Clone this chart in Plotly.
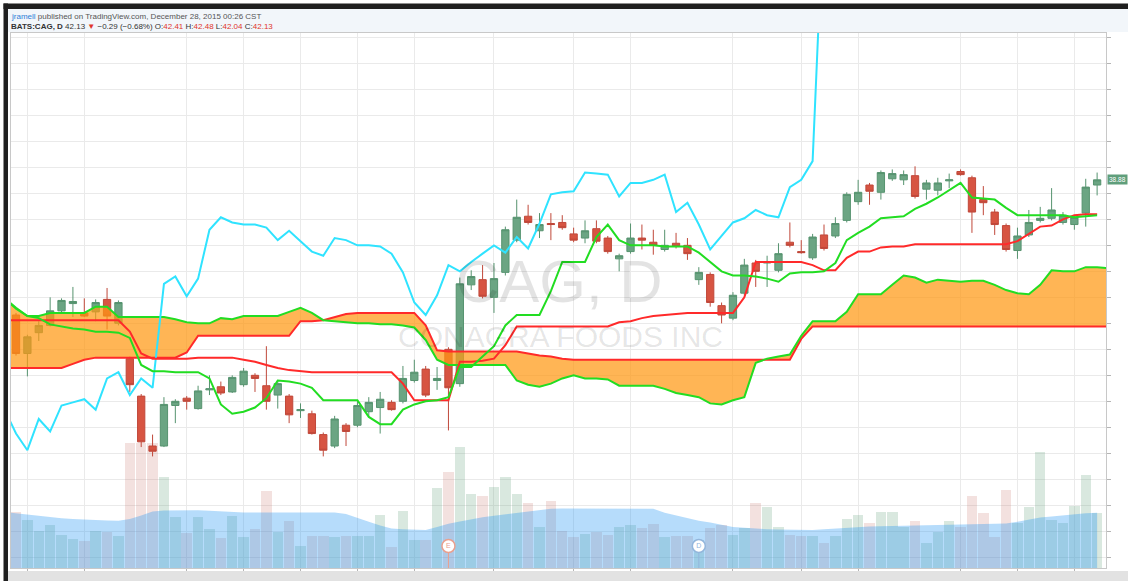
import plotly.graph_objects as go

# ---------------- data (bar index 0..95) ----------------
bars = list(range(96))
opens = [37.58, 37.21, 37.41, 37.48, 37.62, 37.69, 37.60, 37.61, 37.73, 37.50,
         37.16, 36.80, 36.32, 36.32, 36.71, 36.78, 36.68, 36.86, 36.89, 36.84,
         36.91, 37.00, 36.90, 36.81, 36.80, 36.66, 36.63, 36.43, 36.32, 36.52,
         36.52, 36.65, 36.69, 36.74, 36.75, 36.95, 37.06, 36.95, 37.25, 36.92,
         37.87, 37.92, 37.75, 37.99, 38.30, 38.53, 38.39, 38.46, 38.47, 38.36,
         38.32, 38.41, 38.32, 38.12, 38.19, 38.32, 38.28, 38.21, 38.27, 38.25,
         37.92, 37.97, 37.67, 37.55, 37.79, 38.08, 38.08, 38.01, 38.28, 38.19,
         38.13, 38.35, 38.34, 38.49, 38.67, 38.83, 38.76, 38.89, 38.88, 38.92,
         38.79, 38.78, 38.87, 38.96, 38.90, 38.69, 38.57, 38.44, 38.20, 38.35,
         38.49, 38.51, 38.47, 38.45, 38.56, 38.83]
highs = [37.60, 37.39, 37.52, 37.75, 37.74, 37.85, 37.74, 37.73, 37.84, 37.72,
         37.18, 36.82, 36.43, 36.79, 36.77, 36.80, 36.90, 37.00, 36.94, 37.00,
         37.07, 37.02, 37.28, 36.95, 36.82, 36.73, 36.66, 36.45, 36.61, 36.54,
         36.75, 36.79, 36.84, 36.76, 37.09, 37.15, 37.09, 37.08, 37.27, 37.94,
         38.01, 38.06, 38.08, 38.43, 38.69, 38.64, 38.56, 38.56, 38.54, 38.42,
         38.49, 38.49, 38.34, 38.17, 38.46, 38.45, 38.40, 38.40, 38.37, 38.32,
         38.04, 37.99, 37.70, 37.80, 38.12, 38.11, 38.15, 38.27, 38.47, 38.30,
         38.36, 38.45, 38.52, 38.76, 38.88, 38.85, 38.97, 38.98, 38.97, 39.01,
         38.88, 38.90, 38.94, 38.98, 38.92, 38.82, 38.60, 38.46, 38.42, 38.59,
         38.62, 38.80, 38.57, 38.54, 38.89, 38.95]
lows = [37.19, 36.99, 37.33, 37.47, 37.60, 37.56, 37.56, 37.52, 37.44, 37.48,
        36.84, 36.31, 36.22, 36.31, 36.54, 36.67, 36.67, 36.81, 36.81, 36.83,
        36.89, 36.84, 36.67, 36.68, 36.54, 36.59, 36.43, 36.22, 36.30, 36.32,
        36.50, 36.60, 36.44, 36.66, 36.73, 36.93, 36.79, 36.86, 36.47, 36.89,
        37.82, 37.74, 37.60, 37.96, 38.28, 38.45, 38.32, 38.30, 38.40, 38.28,
        38.27, 38.27, 38.17, 38.00, 38.17, 38.21, 38.16, 38.19, 38.22, 38.11,
        37.87, 37.66, 37.50, 37.53, 37.77, 37.85, 37.85, 37.99, 38.23, 38.17,
        38.11, 38.20, 38.32, 38.47, 38.64, 38.64, 38.69, 38.87, 38.83, 38.70,
        38.69, 38.73, 38.80, 38.92, 38.37, 38.54, 38.35, 38.19, 38.12, 38.33,
        38.47, 38.49, 38.45, 38.40, 38.43, 38.73]
closes = [37.21, 37.37, 37.48, 37.62, 37.72, 37.71, 37.57, 37.70, 37.57, 37.70,
          36.91, 36.36, 36.27, 36.72, 36.75, 36.75, 36.85, 36.87, 36.83, 36.98,
          37.04, 36.97, 36.75, 36.92, 36.62, 36.67, 36.44, 36.28, 36.58, 36.46,
          36.71, 36.74, 36.77, 36.67, 36.97, 37.03, 36.81, 36.97, 36.88, 37.88,
          37.95, 37.76, 37.93, 38.40, 38.52, 38.47, 38.45, 38.45, 38.42, 38.30,
          38.39, 38.29, 38.19, 38.15, 38.32, 38.30, 38.25, 38.25, 38.24, 38.17,
          37.99, 37.70, 37.58, 37.77, 38.06, 38.00, 38.09, 38.17, 38.25, 38.18,
          38.33, 38.22, 38.46, 38.74, 38.76, 38.77, 38.95, 38.94, 38.93, 38.72,
          38.85, 38.85, 38.88, 38.93, 38.57, 38.66, 38.45, 38.21, 38.34, 38.47,
          38.51, 38.59, 38.54, 38.52, 38.81, 38.88]
volume_m = [2.25, 1.92, 1.49, 1.72, 1.32, 1.16, 1.09, 1.49, 1.45, 1.29,
            4.99, 4.99, 4.99, 3.63, 2.03, 1.39, 2.05, 1.55, 1.19, 2.08,
            1.25, 1.55, 3.08, 1.45, 1.89, 0.88, 1.29, 1.29, 1.23, 1.29,
            1.29, 1.29, 2.12, 0.85, 2.28, 1.12, 1.12, 3.21, 3.83, 4.85,
            2.96, 2.88, 3.25, 3.63, 2.96, 2.61, 1.63, 2.68, 1.49, 1.25,
            1.36, 1.45, 1.32, 1.63, 1.72, 1.59, 1.76, 1.25, 1.28, 1.28,
            1.12, 1.59, 1.72, 1.32, 1.59, 2.61, 2.45, 1.63, 1.32, 1.29,
            1.29, 1.01, 1.28, 1.96, 2.12, 1.79, 2.25, 2.25, 1.65, 1.89,
            1.01, 1.45, 1.88, 1.63, 2.88, 2.19, 1.25, 3.12, 1.79, 2.43,
            4.63, 1.92, 1.81, 2.48, 3.72, 2.21]

# volume moving average, bar index -1..95
vol_ma_x = list(range(-1, 96))
vol_ma = [2.24, 2.19, 2.12, 2.06, 2.02, 1.99, 1.96, 1.93, 1.91, 1.90, 1.89,
          1.96, 2.10, 2.26, 2.30, 2.31, 2.32, 2.31, 2.29, 2.26, 2.24,
          2.22, 2.22, 2.22, 2.22, 2.22, 2.23, 2.23, 2.22, 2.22, 2.16,
          2.02, 1.85, 1.70, 1.58, 1.55, 1.54, 1.52, 1.64, 1.77, 1.86,
          1.95, 2.03, 2.09, 2.15, 2.21, 2.28, 2.33, 2.37, 2.38, 2.38,
          2.37, 2.36, 2.37, 2.38, 2.38, 2.38, 2.37, 2.21, 2.11, 1.98,
          1.89, 1.82, 1.74, 1.64, 1.61, 1.57, 1.55, 1.54, 1.53, 1.53,
          1.52, 1.55, 1.58, 1.62, 1.64, 1.66, 1.67, 1.68, 1.70, 1.72,
          1.72, 1.73, 1.74, 1.75, 1.75, 1.76, 1.77, 1.78, 1.85, 1.95,
          2.02, 2.06, 2.11, 2.16, 2.19, 2.21]

# Ichimoku lines, bar index -1..95
line_x = list(range(-1, 96))
tenkan = [37.74, 37.65, 37.57, 37.55, 37.49, 37.47, 37.45, 37.44, 37.42, 37.42, 37.41,
          37.36, 37.10, 37.04, 37.04, 37.03, 37.03, 37.03, 36.97, 36.72, 36.63,
          36.65, 36.69, 36.78, 36.95, 36.94, 36.92, 36.88, 36.76, 36.76, 36.76,
          36.76, 36.60, 36.53, 36.53, 36.67, 36.72, 36.75, 36.76, 36.79, 37.08,
          37.08, 37.18, 37.28, 37.48, 37.58, 37.58, 37.58, 37.81, 38.09, 38.09,
          38.09, 38.33, 38.45, 38.30, 38.25, 38.25, 38.25, 38.24, 38.24, 38.24,
          38.18, 38.09, 38.00, 37.96, 37.96, 37.95, 37.93, 37.90, 37.98, 37.99,
          37.99, 38.00, 38.08, 38.30, 38.37, 38.43, 38.51, 38.52, 38.53, 38.60,
          38.65, 38.71, 38.78, 38.85, 38.71, 38.70, 38.69, 38.61, 38.54, 38.54,
          38.54, 38.54, 38.54, 38.52, 38.53, 38.54]
kijun = [37.53, 37.53, 37.53, 37.53, 37.53, 37.53, 37.53, 37.53, 37.53, 37.53, 37.53,
         37.42, 37.21, 37.16, 37.16, 37.16, 37.16, 37.17, 37.17, 37.17, 37.17,
         37.15, 37.13, 37.10, 37.07, 37.05, 37.04, 37.03, 37.03, 37.03, 37.03,
         37.03, 37.03, 37.03, 37.03, 36.92, 36.76, 36.76, 36.76, 36.76, 37.13,
         37.13, 37.14, 37.16, 37.29, 37.47, 37.47, 37.47, 37.47, 37.47, 37.47,
         37.47, 37.47, 37.47, 37.51, 37.52, 37.55, 37.57, 37.58, 37.59, 37.60,
         37.60, 37.60, 37.60, 37.60, 37.75, 38.09, 38.09, 38.09, 38.09, 38.09,
         38.06, 38.01, 38.01, 38.13, 38.19, 38.19, 38.23, 38.24, 38.24, 38.26,
         38.26, 38.26, 38.26, 38.26, 38.26, 38.26, 38.26, 38.26, 38.29, 38.36,
         38.43, 38.44, 38.50, 38.54, 38.55, 38.55]

# lagging span, bar index -1..71
lag_x = list(range(-1, 72))
lagging = [36.67,
           36.44, 36.28, 36.58, 36.46, 36.71, 36.74, 36.77, 36.67, 36.97, 37.03,
           36.81, 36.97, 36.88, 37.88, 37.95, 37.76, 37.93, 38.40, 38.52, 38.47,
           38.45, 38.45, 38.42, 38.30, 38.39, 38.29, 38.19, 38.15, 38.32, 38.30,
           38.25, 38.25, 38.24, 38.17, 37.99, 37.70, 37.58, 37.77, 38.06, 38.00,
           38.09, 38.17, 38.25, 38.18, 38.33, 38.22, 38.46, 38.74, 38.76, 38.77,
           38.95, 38.94, 38.93, 38.72, 38.85, 38.85, 38.88, 38.93, 38.57, 38.66,
           38.45, 38.21, 38.34, 38.47, 38.51, 38.59, 38.54, 38.52, 38.81, 38.88,
           39.06, 41.60]

# leading spans (cloud), bar index -1..97
cloud_x = list(range(-1, 98))
senkou_a = [37.74, 37.64, 37.57, 37.57, 37.60, 37.60, 37.60, 37.60, 37.66, 37.66, 37.56,
            37.56, 37.56, 37.56, 37.56, 37.54, 37.51, 37.50, 37.50, 37.55, 37.54,
            37.57, 37.57, 37.57, 37.57, 37.61, 37.65, 37.60, 37.53, 37.52, 37.51,
            37.50, 37.50, 37.49, 37.49, 37.48, 37.46, 37.34, 37.15, 37.10, 37.10,
            37.10, 37.10, 37.10, 37.10, 36.95, 36.91, 36.89, 36.92, 36.97, 37.00,
            36.97, 36.97, 36.96, 36.90, 36.90, 36.90, 36.90, 36.87, 36.83, 36.81,
            36.79, 36.73, 36.72, 36.76, 36.79, 37.12, 37.16, 37.18, 37.20, 37.38,
            37.52, 37.52, 37.52, 37.61, 37.78, 37.78, 37.78, 37.87, 37.96, 37.94,
            37.89, 37.92, 37.91, 37.90, 37.91, 37.91, 37.87, 37.82, 37.79, 37.78,
            37.87, 38.01, 38.00, 38.00, 38.04, 38.04, 38.03, 38.03]
senkou_b = [37.07, 37.07, 37.07, 37.07, 37.07, 37.07, 37.11, 37.15, 37.17, 37.17, 37.17,
            37.17, 37.17, 37.17, 37.17, 37.17, 37.22, 37.38, 37.38, 37.38, 37.38,
            37.38, 37.38, 37.38, 37.38, 37.38, 37.52, 37.52, 37.53, 37.56, 37.59,
            37.60, 37.60, 37.60, 37.60, 37.60, 37.60, 37.48, 37.24, 37.23, 37.23,
            37.23, 37.23, 37.23, 37.23, 37.23, 37.21, 37.19, 37.18, 37.16, 37.15,
            37.15, 37.15, 37.15, 37.15, 37.15, 37.15, 37.15, 37.15, 37.15, 37.15,
            37.15, 37.15, 37.15, 37.15, 37.15, 37.15, 37.15, 37.15, 37.15, 37.35,
            37.47, 37.47, 37.47, 37.47, 37.47, 37.47, 37.47, 37.47, 37.47, 37.47,
            37.47, 37.47, 37.47, 37.47, 37.47, 37.47, 37.47, 37.47, 37.47, 37.47,
            37.47, 37.47, 37.47, 37.47, 37.47, 37.47, 37.47, 37.47]

grid_bars = [1, 6, 15, 20, 25, 30, 35, 42, 49, 54, 63, 69, 74, 83, 88, 93]
event_bars = [38, 60]
event_labels = ["E", "D"]
event_rings = ["#eaa08f", "#93b6dc"]

# ---------------- styling ----------------
UP_FILL, UP_LINE = "#6ba583", "#56936f"
DN_FILL, DN_LINE = "#d75442", "#c0483a"
GREEN, RED, CYAN = "#22dd22", "#ff2a2a", "#2fe3ff"
FONT = "Liberation Sans, Arial, sans-serif"

vol_colors = ["rgba(107,165,131,0.26)" if c >= o else "rgba(200,120,110,0.22)"
              for o, c in zip(opens, closes)]

fig = go.Figure()

# volume pane (base axes, drawn behind price)
fig.add_trace(go.Bar(x=bars, y=volume_m, width=0.92, marker=dict(color=vol_colors, line=dict(width=0)),
                     xaxis="x", yaxis="y", hoverinfo="skip"))
fig.add_trace(go.Scatter(x=vol_ma_x, y=vol_ma, mode="lines", line=dict(width=0), fill="tozeroy",
                         fillcolor="rgba(33,150,243,0.33)", xaxis="x", yaxis="y", hoverinfo="skip"))
# event flags (earnings / dividend)
for b, lbl, ring in zip(event_bars, event_labels, event_rings):
    fig.add_trace(go.Scatter(x=[b, b], y=[0, 0.88], mode="lines", line=dict(color=ring, width=1),
                             xaxis="x", yaxis="y", hoverinfo="skip"))
    fig.add_trace(go.Scatter(x=[b], y=[0.88], mode="markers+text", text=[lbl],
                             textposition="middle center",
                             textfont=dict(size=7, color=ring, family=FONT),
                             marker=dict(size=13, color="white", line=dict(color=ring, width=1.5)),
                             xaxis="x", yaxis="y", hoverinfo="skip"))

# cloud fill
fig.add_trace(go.Scatter(x=cloud_x, y=senkou_b, mode="lines", line=dict(width=0),
                         xaxis="x", yaxis="y2", hoverinfo="skip"))
fig.add_trace(go.Scatter(x=cloud_x, y=senkou_a, mode="lines", line=dict(width=0), fill="tonexty",
                         fillcolor="rgba(255,153,20,0.72)", xaxis="x", yaxis="y2", hoverinfo="skip"))
fig.add_trace(go.Scatter(x=cloud_x, y=senkou_b, mode="lines", line=dict(color=RED, width=2),
                         xaxis="x", yaxis="y2", hoverinfo="skip"))
fig.add_trace(go.Scatter(x=cloud_x, y=senkou_a, mode="lines", line=dict(color=GREEN, width=2),
                         xaxis="x", yaxis="y2", hoverinfo="skip"))

# candles
fig.add_trace(go.Candlestick(x=bars, open=opens, high=highs, low=lows, close=closes,
                             increasing=dict(fillcolor=UP_FILL, line=dict(color=UP_LINE, width=1)),
                             decreasing=dict(fillcolor=DN_FILL, line=dict(color=DN_LINE, width=1)),
                             whiskerwidth=0, xaxis="x", yaxis="y2", hoverinfo="skip"))

# lagging, base, conversion lines
fig.add_trace(go.Scatter(x=lag_x, y=lagging, mode="lines", line=dict(color=CYAN, width=2),
                         xaxis="x", yaxis="y2", hoverinfo="skip"))
fig.add_trace(go.Scatter(x=line_x, y=kijun, mode="lines", line=dict(color=RED, width=2),
                         xaxis="x", yaxis="y2", hoverinfo="skip"))
fig.add_trace(go.Scatter(x=line_x, y=tenkan, mode="lines", line=dict(color=GREEN, width=2),
                         xaxis="x", yaxis="y2", hoverinfo="skip"))

W, H = 1128, 581
ML, MR, MT, MB = 11, 22, 33, 13
PW, PH = W - ML - MR, H - MT - MB


def px(xp):
    return (xp - ML) / PW


def py(yp):
    return (H - MB - yp) / PH


shapes = [
    dict(type="rect", xref="paper", yref="paper", x0=px(8), x1=px(W), y0=py(32), y1=py(9),
         fillcolor="#f2f6fa", line=dict(width=0), layer="below"),
    dict(type="rect", xref="paper", yref="paper", x0=px(3.5), x1=px(W), y0=py(9), y1=py(3.5),
         fillcolor="#1f1f1f", line=dict(width=0)),
    dict(type="rect", xref="paper", yref="paper", x0=px(3.5), x1=px(8), y0=py(H), y1=py(3.5),
         fillcolor="#1f1f1f", line=dict(width=0)),
    dict(type="rect", xref="paper", yref="paper", x0=px(8), x1=px(W), y0=py(H), y1=py(571),
         fillcolor="#e2e2e2", line=dict(width=0)),
]

last_close = closes[-1]
annotations = [
    dict(xref="paper", yref="paper", x=px(9), y=py(16), xanchor="left", yanchor="middle",
         showarrow=False, font=dict(size=8, color="#555555", family=FONT),
         text="<span style='color:#2f7fd8'>jramell</span> published on TradingView.com, December 28, 2015 00:26 CST"),
    dict(xref="paper", yref="paper", x=px(9), y=py(26.5), xanchor="left", yanchor="middle",
         showarrow=False, font=dict(size=8, color="#333333", family=FONT),
         text="<b>BATS:CAG, D</b> 42.13 <span style='color:#e0352b'>▼</span> −0.29 (−0.68%) "
              "O:<span style='color:#e0352b'>42.41</span> H:<span style='color:#e0352b'>42.48</span> "
              "L:<span style='color:#e0352b'>42.04</span> C:<span style='color:#e0352b'>42.13</span>"),
    dict(xref="paper", yref="paper", x=px(559), y=py(281), xanchor="center", yanchor="middle",
         showarrow=False, text="CAG, D", font=dict(size=60, color="rgba(0,0,0,0.11)", family=FONT)),
    dict(xref="paper", yref="paper", x=px(560), y=py(337), xanchor="center", yanchor="middle",
         showarrow=False, text="CONAGRA FOODS INC", font=dict(size=30, color="rgba(0,0,0,0.11)", family=FONT)),
    dict(xref="paper", yref="y2", x=1, y=last_close, xanchor="left", yanchor="middle", xshift=1,
         showarrow=False, text=f"{last_close:.2f}", bgcolor="#5f9e7b", borderpad=1,
         font=dict(size=6.5, color="white", family=FONT)),
]

fig.update_layout(
    width=W, height=H,
    margin=dict(l=ML, r=MR, t=MT, b=MB, pad=0),
    paper_bgcolor="white", plot_bgcolor="white",
    showlegend=False, hovermode=False,
    boxgap=0.36, boxgroupgap=0,
    bargap=0,
    xaxis=dict(range=[-0.44, 95.78], tickvals=grid_bars, showticklabels=False,
               ticks="outside", ticklen=3, tickcolor="#b5b5b5",
               showgrid=True, gridcolor="#eaeaea", gridwidth=1, zeroline=False,
               showline=True, linecolor="#c8c8c8", mirror=True, rangeslider=dict(visible=False)),
    yaxis=dict(range=[0, 21.4], showgrid=False, zeroline=False, showticklabels=False,
               showline=True, linecolor="#c8c8c8", ticks=""),
    yaxis2=dict(overlaying="y", side="right", range=[35.147, 40.292], tick0=35, dtick=0.25,
                showgrid=True, gridcolor="#eaeaea", gridwidth=1, showticklabels=False,
                ticks="outside", ticklen=4, tickcolor="#b5b5b5", zeroline=False,
                showline=True, linecolor="#c8c8c8"),
    shapes=shapes,
    annotations=annotations,
)

fig.write_html("out.html", config={"displayModeBar": False},
               post_script="document.body.style.margin='0';document.body.style.overflow='hidden';")
